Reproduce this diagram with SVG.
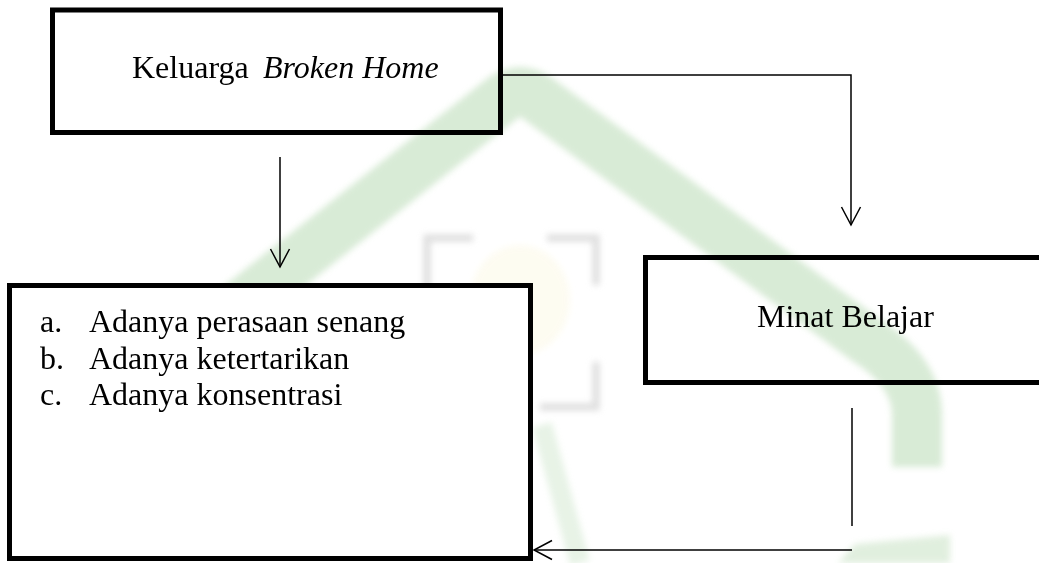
<svg xmlns="http://www.w3.org/2000/svg" width="1039" height="563" viewBox="0 0 1039 563">
  <defs>
    <style>
      .box { fill: none; stroke: #000; stroke-width: 5; }
      .box-solid { fill: #fff; stroke: #000; stroke-width: 5; }
      .label { font-family: "Liberation Serif", "Times New Roman", serif; font-size: 32px; fill: #000; }
      .em { font-style: italic; }
      .link { fill: none; stroke: #000; stroke-width: 1.5; }
      .wm-band { fill: none; stroke: #cfe6cc; stroke-linejoin: round; }
      .wm-frame { fill: none; stroke: #d6d6d6; stroke-width: 7; }
    </style>
    <marker id="arrow-open" viewBox="-21 -12 23 24" refX="0" refY="0" markerWidth="23" markerHeight="24" markerUnits="userSpaceOnUse" orient="auto">
      <path d="M-18,-9.5 L0,0 L-18,9.5" fill="none" stroke="#000" stroke-width="1.5"/>
    </marker>
    <filter id="soft" x="-10%" y="-10%" width="120%" height="120%">
      <feGaussianBlur stdDeviation="3"/>
    </filter>
  </defs>

  <rect width="1039" height="563" fill="#fff"/>

  <!-- faint background emblem -->
  <g id="watermark" filter="url(#soft)" opacity="0.8">
    <path class="wm-band" stroke-width="50" d="M 215 325 L 503 98 Q 520 86 537 98 L 866 340 Q 917 372 917 415 L 917 467"/>
    <path class="wm-band" stroke-width="20" opacity="0.6" d="M 542 425 L 580 563"/>
    <path d="M 838 563 L 855 544 L 950 535 L 950 563 Z" fill="#cfe6cc" opacity="0.8"/>
    <ellipse cx="520" cy="300" rx="50" ry="55" fill="#fcf8e2" opacity="0.6"/>
    <path class="wm-frame" d="M 473 238 L 427 238 L 427 292"/>
    <path class="wm-frame" d="M 547 238 L 596 238 L 596 285"/>
    <path class="wm-frame" d="M 596 362 L 596 407 L 540 407"/>
  </g>

  <!-- arrows between the boxes -->
  <g id="connectors">
    <path class="link" d="M 503 75 H 851 V 225" marker-end="url(#arrow-open)"/>
    <path class="link" d="M 280 157 V 267" marker-end="url(#arrow-open)"/>
    <path class="link" d="M 852 408 V 526"/>
    <path class="link" d="M 852 550 H 534" marker-end="url(#arrow-open)"/>
  </g>

  <g id="node-keluarga">
    <rect class="box" x="52.5" y="10" width="448" height="122.5"/>
    <text class="label" x="132" y="78">Keluarga</text>
    <text class="label em" x="263" y="78">Broken Home</text>
  </g>

  <g id="node-indikator">
    <rect class="box-solid" x="9.5" y="285.5" width="521" height="273"/>
    <text class="label" x="40" y="332">a.</text>
    <text class="label" x="89" y="332">Adanya perasaan senang</text>
    <text class="label" x="40" y="368.5">b.</text>
    <text class="label" x="89" y="368.5">Adanya ketertarikan</text>
    <text class="label" x="40" y="405">c.</text>
    <text class="label" x="89" y="405">Adanya konsentrasi</text>
  </g>

  <g id="node-minat">
    <rect class="box" x="645.5" y="257.5" width="400" height="125"/>
    <text class="label" x="757" y="327">Minat Belajar</text>
  </g>
</svg>
